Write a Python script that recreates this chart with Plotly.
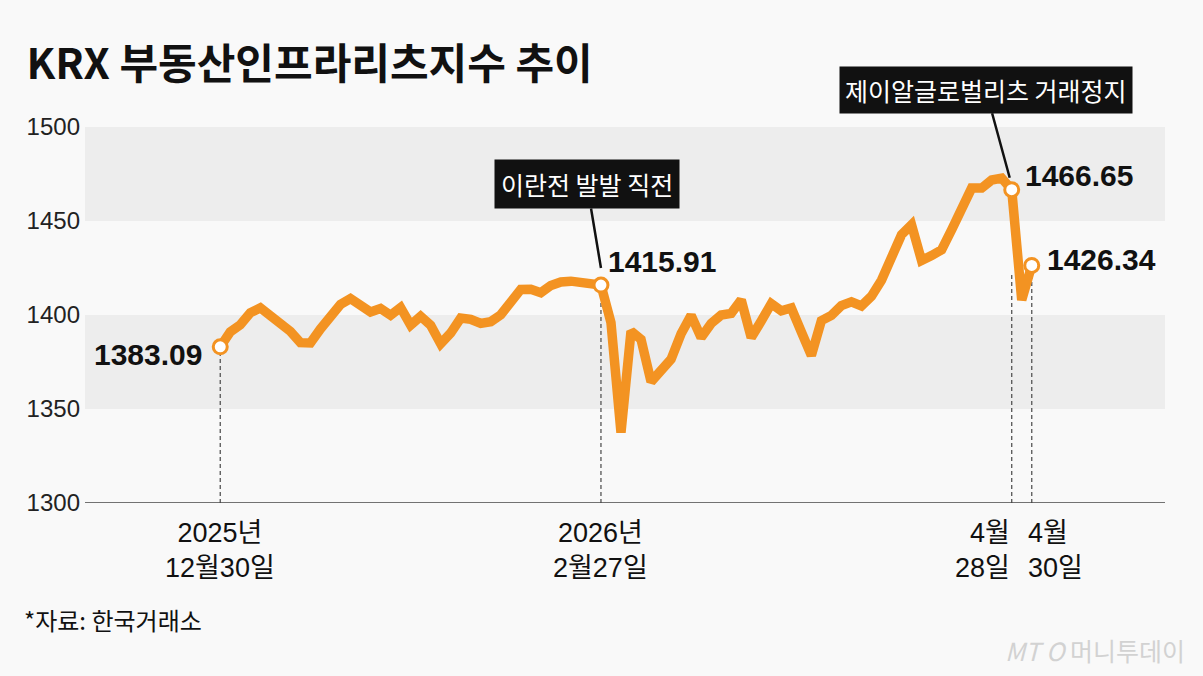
import plotly.graph_objects as go
import pandas as pd

# KRX 부동산인프라리츠지수 - 일별 종가
krx_holidays = ["2025-12-31", "2026-01-01", "2026-02-16", "2026-02-17", "2026-02-18", "2026-03-02"]
dates = [d.strftime("%Y-%m-%d") for d in pd.bdate_range("2025-12-30", "2026-04-30")
         if d.strftime("%Y-%m-%d") not in krx_holidays]

values = [
    1383.09, 1391.0, 1394.8, 1401.2, 1403.8, 1399.7, 1396.0, 1391.3, 1385.3, 1385.1,
    1392.6, 1399.3, 1405.6, 1408.7, 1404.5, 1401.6, 1403.4, 1399.9, 1404.0, 1394.6,
    1399.3, 1394.5, 1384.7, 1390.4, 1398.4, 1397.7, 1395.5, 1396.4, 1400.1, 1406.8,
    1413.6, 1413.7, 1411.9, 1415.7, 1417.6, 1418.0, 1417.6, 1416.6, 1415.91, 1396.0,
    1337.5, 1391.4, 1387.0, 1364.5, 1371.5, 1376.5, 1390.0, 1399.8, 1388.0, 1395.5,
    1400.0, 1400.9, 1408.0, 1388.0, 1396.8, 1406.0, 1402.2, 1403.7, 1391.0, 1378.5,
    1397.0, 1399.8, 1405.0, 1407.0, 1404.8, 1410.0, 1418.5, 1431.8, 1442.7, 1448.0,
    1429.0, 1431.6, 1434.7, 1445.3, 1456.8, 1467.5, 1467.5, 1471.8, 1472.8, 1466.65,
    1408.0, 1426.34,
]

# 강조 지점
marked_dates = ["2025-12-30", "2026-02-27", "2026-04-28", "2026-04-30"]
marked_labels = ["1383.09", "1415.91", "1466.65", "1426.34"]
date_labels = ["2025년<br>12월30일", "2026년<br>2월27일", "4월<br>28일", "4월<br>30일"]
callouts = ["이란전 발발 직전", "제이알글로벌리츠 거래정지"]
y_ticks = [1300, 1350, 1400, 1450, 1500]

ORANGE = "#F39322"
NUMFONT = "Liberation Sans, Arial, Noto Sans CJK KR"
idx = {d: i for i, d in enumerate(dates)}
mi = [idx[d] for d in marked_dates]
mv = [values[i] for i in mi]

fig = go.Figure()

fig.add_trace(go.Scatter(
    x=dates, y=values, mode="lines",
    line=dict(color=ORANGE, width=9.5),
    hoverinfo="skip",
))
fig.add_trace(go.Scatter(
    x=marked_dates, y=mv, mode="markers",
    marker=dict(size=14, color="white", line=dict(color=ORANGE, width=3)),
    hoverinfo="skip",
))

# 회색 띠
for lo, hi in [(1450, 1500), (1350, 1400)]:
    fig.add_shape(type="rect", xref="paper", x0=0, x1=1, y0=lo, y1=hi,
                  fillcolor="#ededed", line_width=0, layer="below")

# 점선
dash_tops = [mv[0], mv[1], 1422, 1420]
for i, top in zip(mi, dash_tops):
    fig.add_shape(type="line", x0=i, x1=i, y0=1300, y1=top,
                  line=dict(color="#555555", width=1.3, dash="4px,3px"), layer="below")

# 기준선
fig.add_shape(type="line", xref="paper", x0=0, x1=1, y0=1300, y1=1300,
              line=dict(color="#444444", width=1.5))

# 수치 라벨
label_pos = [
    dict(xanchor="right", xshift=-16, yshift=-8),
    dict(xanchor="left", xshift=5, yshift=24),
    dict(xanchor="left", xshift=11, yshift=14),
    dict(xanchor="left", xshift=13, yshift=6),
]
for i, v, txt, p in zip(mi, mv, marked_labels, label_pos):
    fig.add_annotation(x=i, y=v, text=txt, showarrow=False, yanchor="middle",
                       font=dict(family=NUMFONT, size=30, color="#111111", weight="bold"), **p)

# 말풍선
fig.add_annotation(x=mi[1], y=1425, text=callouts[0], showarrow=True, arrowhead=0,
                   arrowwidth=2.5, arrowcolor="#111111", ax=-14, ay=-84,
                   bgcolor="#111111", borderpad=6,
                   font=dict(family="Noto Sans CJK KR", size=25, color="white"))
fig.add_annotation(x=mi[2] - 0.2, y=1473, text=callouts[1], showarrow=True, arrowhead=0,
                   arrowwidth=2.5, arrowcolor="#111111", ax=-24, ay=-88,
                   bgcolor="#111111", borderpad=5,
                   font=dict(family="Noto Sans CJK KR", size=25, color="white"))

# 날짜 라벨
date_pos = [
    dict(xanchor="center", align="center", xshift=0),
    dict(xanchor="center", align="center", xshift=0),
    dict(xanchor="right", align="right", xshift=0),
    dict(xanchor="left", align="left", xshift=-6),
]
for i, txt, p in zip(mi, date_labels, date_pos):
    fig.add_annotation(x=i, y=-0.125, yref="paper", text=txt, showarrow=False,
                       yanchor="middle", font=dict(family=NUMFONT, size=27, color="#111111"), **p)

# 출처, 로고
fig.add_annotation(x=-0.058, y=-0.31, xref="paper", yref="paper", text="*자료: 한국거래소",
                   showarrow=False, xanchor="left", yanchor="middle",
                   font=dict(family="Noto Sans CJK KR", size=24, color="#111111"))
fig.add_annotation(x=1.02, y=-0.39, xref="paper", yref="paper",
                   text="<i>MT</i> <i>O</i> 머니투데이", showarrow=False,
                   xanchor="right", yanchor="middle",
                   font=dict(family="Noto Sans CJK KR", size=25, color="#d2d2d2"))

fig.update_layout(
    width=1203, height=676,
    margin=dict(l=85, r=38, t=127, b=173),
    paper_bgcolor="#f9f9f9", plot_bgcolor="#f9f9f9",
    showlegend=False,
    title=dict(text="KRX 부동산인프라리츠지수 추이", x=0.022, xanchor="left",
               y=0.905, yanchor="middle",
               font=dict(family="Noto Sans CJK KR", size=42, color="#111111", weight="bold")),
    xaxis=dict(type="category", range=[-13.5, 94.3], showticklabels=False,
               showgrid=False, zeroline=False, showline=False, ticks=""),
    yaxis=dict(range=[1300, 1500], tickvals=y_ticks, showgrid=False, zeroline=False,
               showline=False, ticks="", ticklabelstandoff=4,
               tickfont=dict(family=NUMFONT, size=24, color="#222222")),
)

fig.write_html("out.html", config={"displayModeBar": False},
               post_script="document.body.style.margin='0';")
